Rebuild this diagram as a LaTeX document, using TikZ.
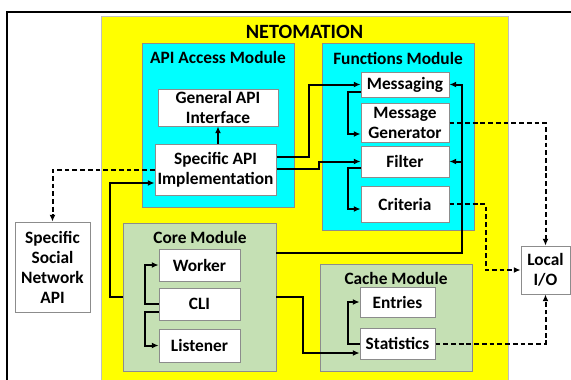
\documentclass[tikz,border=0pt]{standalone}
\usepackage{fontspec}
\setmainfont{Carlito}
\usetikzlibrary{calc,fit,arrows.meta}
\definecolor{modgreen}{HTML}{C5E0B4}
\definecolor{modcyan}{HTML}{00FFFF}
\definecolor{appyellow}{HTML}{FFFF00}
\definecolor{edgegray}{HTML}{8C8C8C}
\tikzset{
  box/.style={draw=edgegray, line width=0.75pt, fill=white, inner sep=0pt,
    align=center, font=\fontsize{13}{15}\selectfont\bfseries},
  module/.style={draw=edgegray, line width=0.6pt},
  modtitle/.style={font=\fontsize{13}{15}\selectfont\bfseries, inner sep=0pt},
  arr/.style={line width=1.5pt, -{Latex[length=5pt,width=4.5pt]}},
  darr/.style={arr, dash pattern=on 3.6pt off 2.2pt},
}
% box with its corners given in pixel units (1 unit = 0.75pt)
\newcommand\pbox[6]{%
  \pgfmathsetmacro\bxw{(#4-#2)*0.75}%
  \pgfmathsetmacro\bxh{(#5-#3)*0.75}%
  \node[box, minimum width=\bxw pt, minimum height=\bxh pt]
    (#1) at ({(#2+#4)/2},{(#3+#5)/2}) {#6};}
\begin{document}
\begin{tikzpicture}[x=0.75pt, y=-0.75pt]
\useasboundingbox (0,0) rectangle (571,379);
\clip (0,0) rectangle (571,379);

% outer frame
\draw[line width=1.5pt] (7,400) -- (7,12) -- (600,12);

% application area
\draw[fill=appyellow, draw=black!25, line width=0.6pt] (101,16) rectangle (508,400);
\node[font=\fontsize{15.2}{17}\selectfont\bfseries, inner sep=0pt] (title) at (304.5,32) {NETOMATION};

% modules
\draw[module, fill=modcyan] (142,43) rectangle (294,207);
\node (apimod) [fit={(142,43)(294,207)}, inner sep=0pt] {};
\node[modtitle] (apititle) at (218,57) {API Access Module};

\draw[module, fill=modcyan] (322,43) rectangle (474,230);
\node (funcmod) [fit={(322,43)(474,230)}, inner sep=0pt] {};
\node[modtitle] (functitle) at (398,58) {Functions Module};

\draw[module, fill=modgreen] (123,223) rectangle (276,371);
\node (coremod) [fit={(123,223)(276,371)}, inner sep=0pt] {};
\node[modtitle] (coretitle) at (200,237) {Core Module};

\draw[module, fill=modgreen] (320,264) rectangle (472,371);
\node (cachemod) [fit={(320,264)(472,371)}, inner sep=0pt] {};
\node[modtitle] (cachetitle) at (396,278) {Cache Module};

% components
\pbox{gapi}{158}{89}{278}{126}{General API\\Interface}
\pbox{sapi}{155}{144}{276}{195}{Specific API\\Implementation}
\pbox{msg}{361}{72}{449}{97}{Messaging}
\pbox{mgen}{361}{103}{449}{142}{Message\\Generator}
\pbox{filt}{361}{146}{449}{177}{Filter}
\pbox{crit}{361}{186}{449}{222}{Criteria}
\pbox{work}{159}{249}{240}{281}{Worker}
\pbox{cli}{159}{288}{240}{320}{CLI}
\pbox{lis}{159}{329}{240}{362}{Listener}
\pbox{ent}{360}{287}{435}{317}{Entries}
\pbox{stat}{360}{328}{435}{359}{Statistics}
\pbox{ssn}{15}{222}{90}{312}{Specific\\Social\\Network\\API}
\pbox{lio}{521}{246}{570}{294}{Local\\I/O}

% solid connectors
\draw[arr] (gapi.south |- sapi.north) -- (gapi.south);
\draw[arr] ($(sapi.east)+(0,-12.5)$) -- ++(32,0) |- (msg.west);
\draw[arr] ($(sapi.east)+(0,-0.5)$) -- ++(42,0) |- (filt.west);
\draw[arr] ($(msg.west)+(0,7.5)$) -- ++(-13,0) |- ($(mgen.west)+(0,11.5)$);
\draw[arr] ($(filt.west)+(0,6)$) -- ++(-13,0) |- ($(crit.west)+(0,5)$);
\draw[arr] ($(coremod.east)+(0,-44)$) -| ($(msg.east)+(12,0)$) -- (msg.east);
\draw[arr] ($(filt.east)+(12,0)$) -- (filt.east);
\draw[arr] (coremod.west) -- ++(-13,0) |- ($(sapi.west)+(0,13.5)$);
\draw[arr] (cli.west) -- ++(-13.5,0) |- (work.west);
\draw[arr] ($(cli.west)+(0,8)$) -- ++(-13.5,0) |- (lis.west);
\draw[arr] (coremod.east) -- ++(27,0) |- ($(stat.west)+(0,9.5)$);
\draw[arr] (stat.west) -- ++(-12,0) |- (ent.west);

% dashed connectors
\draw[darr] (sapi.west) -| (ssn.north);
\draw[darr] (mgen.east) -| (lio.north);
\draw[darr] (crit.east) -- ++(36,0) |- (lio.west);
\draw[darr] (stat.east) -| (lio.south);
\end{tikzpicture}
\end{document}
